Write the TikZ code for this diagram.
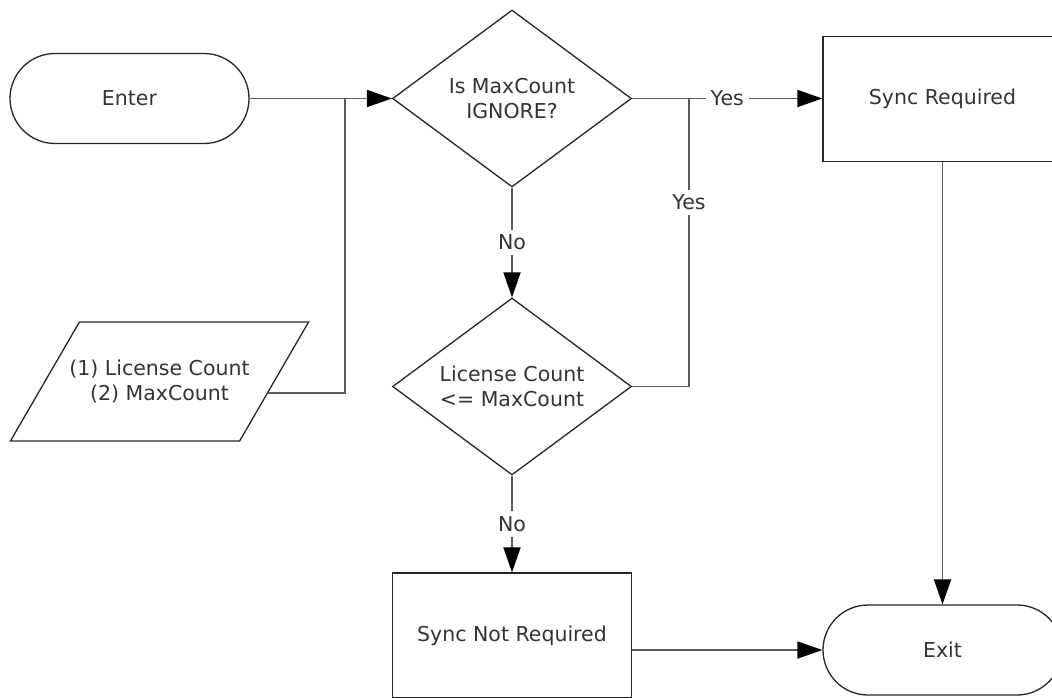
\documentclass[tikz,border=0pt]{standalone}
\usepackage{fontspec}
\setmainfont{DejaVu Sans}
\usetikzlibrary{positioning,calc,shapes,arrows.meta}

\begin{document}
\begin{tikzpicture}[x=1pt,y=1pt]
    \tikzstyle{every node}=[font=\fontsize{20.5}{24.5}\selectfont,text=black!80,inner sep=0,align=center]
    \tikzstyle{term}=[draw=black!85,line width=1.3,rectangle,rounded corners=45,minimum width=239,minimum height=90]
    \tikzstyle{proc}=[draw=black!85,line width=1.3,rectangle,minimum width=239,minimum height=125]
    \tikzstyle{dec}=[draw=black!85,line width=1.3,diamond,aspect=1.35,minimum width=239,minimum height=177]
    \tikzstyle{io}=[draw=black!85,line width=1.3,trapezium,trapezium left angle=59,trapezium right angle=121,trapezium stretches body,inner ysep=36,inner xsep=-10,minimum height=119]
    \tikzstyle{lbl}=[fill=white,inner sep=5]
    \tikzstyle{line}=[draw=black!65,line width=1.8]
    \tikzstyle{link}=[line,-{Triangle[length=25pt,width=17pt,color=black]}]
    \useasboundingbox (0,0) rectangle (1052,-697);
    {
        % shapes
        \node[term] (enter) at (129.5,-98.5) {Enter};
        \node[dec] (ignore) at (512,-98.5) {Is MaxCount\\IGNORE?};
        \node[proc] (syncreq) at (942.5,-99) {Sync Required};
        \node[io] (input) at (159.5,-381.5) {(1) License Count\\(2) MaxCount};
        \node[dec] (compare) at (512,-386.5) {License Count\\<= MaxCount};
        \node[proc] (syncnot) at (512,-635.5) {Sync Not Required};
        \node[term] (exit) at (942.5,-650) {Exit};
        \coordinate (join1) at (345,-98.5);
        \coordinate (join2) at (689,-98.5);

        % connectors
        \draw[link] (enter) -- (ignore);
        \draw[line] (input.-6) -| (join1);
        \draw[link] (ignore) -- node[lbl] {Yes} (syncreq.west |- ignore);
        \draw[line] (compare) -| node[lbl,pos=0.82] {Yes} (join2);
        \draw[link] (ignore) -- node[lbl] {No} (compare);
        \draw[link] (compare) -- node[lbl] {No} (syncnot);
        \draw[link] (syncreq) -- (exit);
        \draw[link] (syncnot.east |- exit) -- (exit);
    }
\end{tikzpicture}
\end{document}
